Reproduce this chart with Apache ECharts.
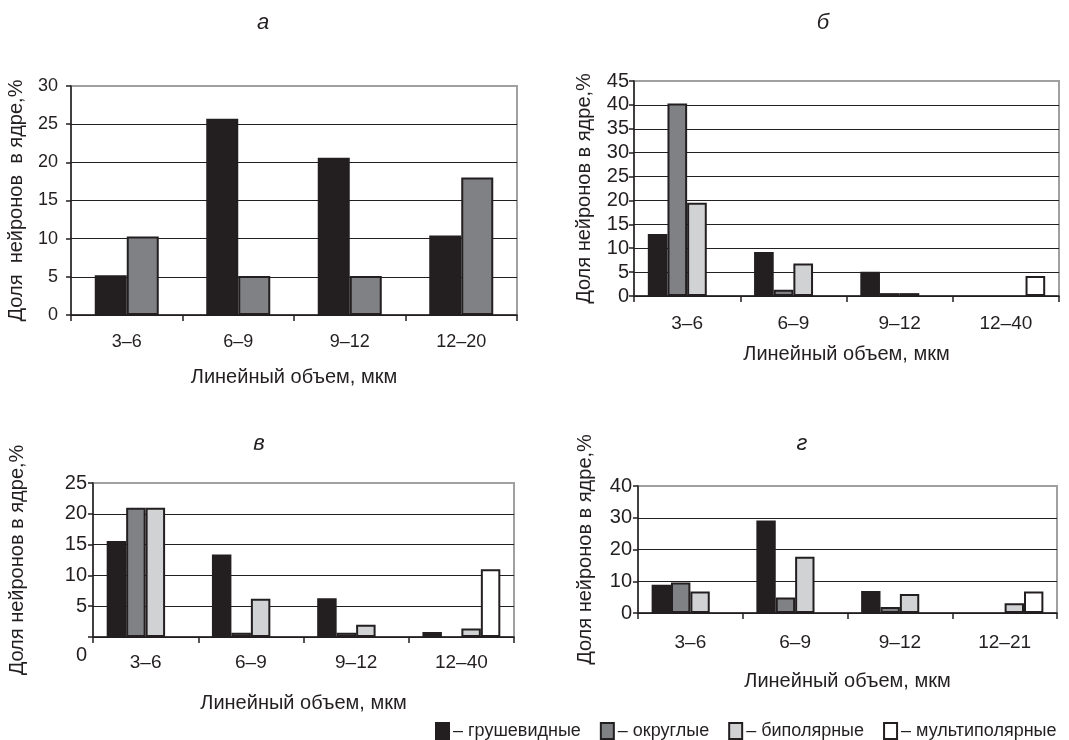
<!DOCTYPE html>
<html>
<head>
<meta charset="utf-8">
<script src="https://cdn.jsdelivr.net/npm/echarts@6/dist/echarts.min.js"></script>
<style>
html,body{margin:0;padding:0;background:#fff;}
#c{width:1069px;height:740px;}
</style>
</head>
<body>
<div id="c"></div>
<script>
// ---- data ----
const seriesNames = ['грушевидные', 'округлые', 'биполярные', 'мультиполярные'];
const panelTitles = ['а', 'б', 'в', 'г'];
const xAxisName = 'Линейный объем, мкм';
const yAxisNameA = 'Доля  нейронов  в ядре,%';
const yAxisName = 'Доля нейронов в ядре,%';

const categoriesA = ['3–6', '6–9', '9–12', '12–20'];
const pearA  = [5.2, 25.7, 20.6, 10.4];
const roundA = [10.3, 5.1, 5.1, 18.0];

const categoriesB = ['3–6', '6–9', '9–12', '12–40'];
const pearB    = [13.0, 9.2, 5.1, 0];
const roundB   = [40.3, 1.3, 0.6, 0];
const bipolarB = [19.5, 6.8, 0.6, 0];
const multiB   = [0, 0, 0, 4.2];

const categoriesV = ['3–6', '6–9', '9–12', '12–40'];
const pearV    = [15.6, 13.4, 6.3, 0.8];
const roundV   = [21.0, 0.7, 0.7, 0];
const bipolarV = [21.0, 6.2, 2.0, 1.4];
const multiV   = [0, 0, 0, 11.0];

const categoriesG = ['3–6', '6–9', '9–12', '12–21'];
const pearG    = [8.9, 29.1, 6.9, 0];
const roundG   = [9.6, 4.9, 1.9, 0];
const bipolarG = [6.8, 17.7, 6.0, 3.1];
const multiG   = [0, 0, 0, 6.8];

const yTicksA = {min: 0, max: 30, interval: 5};
const yTicksB = {min: 0, max: 45, interval: 5};
const yTicksV = {min: 0, max: 25, interval: 5};
const yTicksG = {min: 0, max: 40, interval: 10};

// ---- styling ----
const INK = '#231f20';
const BORDER = '#a0a0a0';
const FONT = 'Liberation Sans, Arial, sans-serif';
const fillColors = {
  'грушевидные': '#231f20',
  'округлые': '#808184',
  'биполярные': '#d1d2d4',
  'мультиполярные': '#ffffff'
};

const grids = [
  {left: 71,  top: 86,  width: 446, height: 229},
  {left: 634, top: 81,  width: 425, height: 215},
  {left: 93,  top: 483, width: 421, height: 154},
  {left: 638, top: 486, width: 419, height: 127}
];

function splitColors(t) {
  const n = Math.round((t.max - t.min) / t.interval) + 1;
  const arr = [];
  for (let i = 0; i < n; i++) arr.push(i === n - 1 ? BORDER : INK);
  return arr;
}

const panels = [
  {cats: categoriesA, ticks: yTicksA, yName: yAxisNameA, data: [pearA, roundA], catGap: '42.6%',
   yNameGap: 45, yLabelMargin: 13, xLabelMargin: 18, xNameGap: 52, yFs: 18, xFs: 18},
  {cats: categoriesB, ticks: yTicksB, yName: yAxisName, data: [pearB, roundB, bipolarB, multiB], catGap: '26%',
   yNameGap: 40, yLabelMargin: 5, xLabelMargin: 18, xNameGap: 48, yFs: 20, xFs: 19},
  {cats: categoriesV, ticks: yTicksV, yName: yAxisName, data: [pearV, roundV, bipolarV, multiV], catGap: '26%',
   yNameGap: 66, yLabelMargin: 6, xLabelMargin: 16, xNameGap: 56, lowZero: true, yFs: 20, xFs: 19},
  {cats: categoriesG, ticks: yTicksG, yName: yAxisName, data: [pearG, roundG, bipolarG, multiG], catGap: '26%',
   yNameGap: 43, yLabelMargin: 6, xLabelMargin: 20, xNameGap: 58, yFs: 20, xFs: 19}
];

const titlePos = [[258, 20], [818, 20], [254, 441], [797, 441]];

const option = {
  backgroundColor: '#fff',
  animation: false,
  textStyle: {fontFamily: FONT, color: INK},
  title: panelTitles.map((t, i) => ({
    text: t, left: titlePos[i][0], top: titlePos[i][1] - 13,
    textAlign: 'center',
    textStyle: {fontFamily: FONT, fontStyle: 'italic', fontWeight: 'normal', fontSize: 22, color: INK}
  })),
  legend: {
    left: 430, top: 717,
    itemWidth: 13, itemHeight: 16, itemGap: 19,
    icon: 'rect',
    data: seriesNames,
    formatter: n => '– ' + n,
    textStyle: {fontFamily: FONT, fontSize: 18, color: INK, padding: [0, 0, 0, -1]}
  },
  grid: grids.map(g => Object.assign({show: true, borderColor: BORDER, borderWidth: 2, backgroundColor: 'transparent'}, g)),
  xAxis: panels.map((p, i) => ({
    type: 'category', gridIndex: i, data: p.cats,
    name: xAxisName, nameLocation: 'middle', nameGap: p.xNameGap,
    nameTextStyle: {fontFamily: FONT, fontSize: 20, color: INK},
    axisLine: {show: true, lineStyle: {color: INK, width: 1.5}},
    axisTick: {show: true, length: 6, lineStyle: {color: INK, width: 1.5}},
    axisLabel: {fontFamily: FONT, fontSize: p.xFs, color: INK, margin: p.xLabelMargin},
    splitLine: {show: false}
  })),
  yAxis: panels.map((p, i) => ({
    type: 'value', gridIndex: i, min: p.ticks.min, max: p.ticks.max, interval: p.ticks.interval,
    name: p.yName, nameLocation: 'middle', nameGap: p.yNameGap, nameRotate: 90,
    nameTextStyle: {fontFamily: FONT, fontSize: 20, color: INK},
    axisLine: {show: true, lineStyle: {color: INK, width: 1.5}},
    axisTick: {show: true, length: 5, lineStyle: {color: INK, width: 1.5}},
    axisLabel: p.lowZero ? {
      fontFamily: FONT, fontSize: p.yFs, color: INK, margin: p.yLabelMargin,
      formatter: v => (v === 0 ? '{z|0}' : String(v)),
      rich: {z: {fontFamily: FONT, fontSize: p.yFs, color: INK, padding: [36, 0, 0, 0]}}
    } : {fontFamily: FONT, fontSize: p.yFs, color: INK, margin: p.yLabelMargin},
    splitLine: {show: true, lineStyle: {color: splitColors(p.ticks), width: 1}}
  })),
  series: []
};

panels.forEach((p, i) => {
  p.data.forEach((arr, k) => {
    const name = seriesNames[k];
    option.series.push({
      type: 'bar', name: name, xAxisIndex: i, yAxisIndex: i,
      // a zero share has no visible bar
      data: arr.map(v => (v === 0 ? '-' : v)),
      barGap: '0%', barCategoryGap: p.catGap,
      itemStyle: {color: fillColors[name], borderColor: INK, borderWidth: 2},
      emphasis: {disabled: true}
    });
  });
});

const chart = echarts.init(document.getElementById('c'), null, {renderer: 'canvas'});
chart.setOption(option);
</script>
</body>
</html>
